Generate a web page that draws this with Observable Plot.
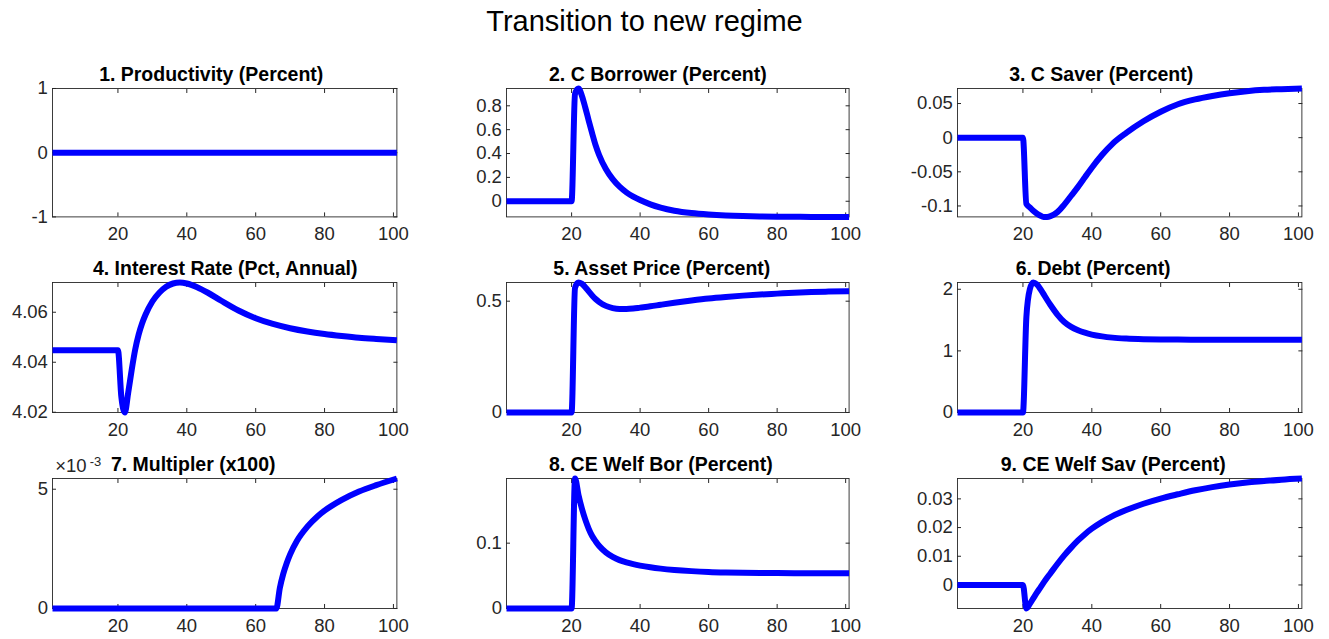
<!DOCTYPE html>
<html>
<head>
<meta charset="utf-8">
<script src="https://cdn.jsdelivr.net/npm/d3@7"></script>
<script src="https://cdn.jsdelivr.net/npm/@observablehq/plot@0.6"></script>
<style>
  body { margin: 0; background: #fff; }
  #chart { position: relative; width: 1329px; height: 639px; font-family: "Liberation Sans", Arial, Helvetica, sans-serif; overflow: hidden; }
  #maintitle { position: absolute; left: 0; width: 1289px; top: 7px; text-align: center; font-size: 29px; line-height: 29px; color: #000; }
  .panel { position: absolute; }
  .panel svg { overflow: visible; }
</style>
</head>
<body>
<div id="chart"><div id="maintitle">Transition to new regime</div></div>
<script>
// ---- data ----
const periods = [1, 20, 21, 22, 23, 24, 25, 26, 27, 28, 30, 32, 34, 36, 38, 40, 43, 46, 50, 55, 60, 65, 70, 75, 80, 85, 90, 95, 101];

const productivity = [0, 0, 0, 0, 0, 0, 0, 0, 0, 0, 0, 0, 0, 0, 0, 0, 0, 0, 0, 0, 0, 0, 0, 0, 0, 0, 0, 0, 0];
const cBorrower = [0, 0, 0.90, 0.945, 0.885, 0.785, 0.675, 0.57, 0.47, 0.39, 0.27, 0.185, 0.122, 0.075, 0.039, 0.01, -0.026, -0.053, -0.079, -0.099, -0.111, -0.119, -0.124, -0.127, -0.129, -0.130, -0.131, -0.131, -0.131];
const cSaver = [0, 0, -0.097, -0.102, -0.107, -0.111, -0.114, -0.116, -0.116, -0.115, -0.109, -0.098, -0.085, -0.072, -0.058, -0.044, -0.025, -0.009, 0.007, 0.024, 0.038, 0.049, 0.056, 0.061, 0.065, 0.068, 0.070, 0.071, 0.072];
const interestRate = [4.0448, 4.0448, 4.026, 4.0199, 4.028, 4.037, 4.045, 4.051, 4.0555, 4.059, 4.0643, 4.0678, 4.0702, 4.0715, 4.0719, 4.0715, 4.0700, 4.0679, 4.0646, 4.0607, 4.0576, 4.0553, 4.0536, 4.0523, 4.0513, 4.0505, 4.0498, 4.0493, 4.0488];
const assetPrice = [0, 0, 0.56, 0.584, 0.578, 0.563, 0.544, 0.526, 0.51, 0.497, 0.479, 0.469, 0.465, 0.465, 0.467, 0.471, 0.477, 0.484, 0.493, 0.503, 0.512, 0.519, 0.525, 0.530, 0.534, 0.538, 0.541, 0.543, 0.545];
const debt = [0, 0, 1.55, 2.0, 2.11, 2.08, 2.01, 1.92, 1.83, 1.745, 1.59, 1.47, 1.39, 1.335, 1.295, 1.265, 1.235, 1.215, 1.2, 1.19, 1.185, 1.183, 1.182, 1.181, 1.18, 1.18, 1.18, 1.18, 1.18];
const welfBor = [0, 0, 0.199, 0.174, 0.153, 0.136, 0.122, 0.111, 0.103, 0.096, 0.086, 0.079, 0.074, 0.0705, 0.0678, 0.0656, 0.063, 0.061, 0.059, 0.0572, 0.0559, 0.0551, 0.0546, 0.0543, 0.0542, 0.0541, 0.054, 0.054, 0.054];
const welfSav = [0, 0, -0.0082, -0.0066, -0.0047, -0.0028, -0.001, 0.0008, 0.0025, 0.0041, 0.0073, 0.0103, 0.013, 0.0155, 0.0177, 0.0196, 0.022, 0.024, 0.0261, 0.0283, 0.0301, 0.0316, 0.033, 0.0341, 0.035, 0.0357, 0.0362, 0.0367, 0.0371];

const multPeriods = [1, 66, 67, 68, 69, 70, 72, 75, 78, 80, 85, 90, 95, 101];
const multiplier = [0, 0, 0.00085, 0.00145, 0.0019, 0.00227, 0.00284, 0.00343, 0.00387, 0.0041, 0.00455, 0.0049, 0.00517, 0.00545];

const xTicks = [20, 40, 60, 80, 100];

const titles = ["1. Productivity (Percent)", "2. C Borrower (Percent)", "3. C Saver (Percent)",
  "4. Interest Rate (Pct, Annual)", "5. Asset Price (Percent)", "6. Debt (Percent)",
  "7. Multipler (x100)", "8. CE Welf Bor (Percent)", "9. CE Welf Sav (Percent)"];
const yTicks = [[-1, 0, 1], [0, 0.2, 0.4, 0.6, 0.8], [-0.1, -0.05, 0, 0.05],
  [4.02, 4.04, 4.06], [0, 0.5], [0, 1, 2],
  [0, 0.005], [0, 0.1], [0, 0.01, 0.02, 0.03]];
const yTickLabels = [["-1", "0", "1"], ["0", "0.2", "0.4", "0.6", "0.8"], ["-0.1", "-0.05", "0", "0.05"],
  ["4.02", "4.04", "4.06"], ["0", "0.5"], ["0", "1", "2"],
  ["0", "5"], ["0", "0.1"], ["0", "0.01", "0.02", "0.03"]];
const seriesX = [periods, periods, periods, periods, periods, periods, multPeriods, periods, periods];
const seriesY = [productivity, cBorrower, cSaver, interestRate, assetPrice, debt, multiplier, welfBor, welfSav];

// ---- layout ----
const colLeft = [52.3, 505.7, 957.3], colWidth = [344.4, 342.6, 344.4];
const rowTop = [88.3, 282.3, 478.3], rowHeight = [128.4, 130, 130];
const titleCenter = [211, 657, 1101, 225, 661, 1093, 193, 660, 1113];
const mL = 60, mR = 14, mT = 34, mB = 34;
const FONT = '"Liberation Sans", Arial, Helvetica, sans-serif';
const AX = "#262626";
const TICKFS = 18.5;

const chart = document.getElementById("chart");
for (let i = 0; i < 9; i++) {
  const r = Math.floor(i / 3), c = i % 3;
  const fw = colWidth[c], fh = rowHeight[r];
  const rows = seriesX[i].map((t, k) => ({t, v: seriesY[i][k]}));
  const ext = d3.extent(seriesY[i]);
  const domain = ext[0] === ext[1] ? [ext[0] - 1, ext[0] + 1] : ext;
  const labels = yTickLabels[i];
  const tIdx = new Map(yTicks[i].map((v, k) => [v, labels[k]]));
  const marks = [
    Plot.frame({stroke: AX, strokeWidth: 0.9}),
    Plot.axisX(xTicks, {anchor: "bottom", tickSize: -4, tickPadding: 14.4, tickFormat: d => String(d), fontSize: TICKFS, fill: AX, stroke: AX, label: null}),
    Plot.axisX(xTicks, {anchor: "top", tickSize: -4, tickFormat: () => "", stroke: AX, label: null}),
    Plot.axisY(yTicks[i], {anchor: "left", tickSize: -4, tickPadding: 8.6, tickFormat: d => tIdx.get(d), fontSize: TICKFS, fill: AX, stroke: AX, label: null}),
    Plot.axisY(yTicks[i], {anchor: "right", tickSize: -4, tickFormat: () => "", stroke: AX, label: null}),
    Plot.line(rows, {x: "t", y: "v", stroke: "#0000ff", strokeWidth: 6, curve: "monotone-x", strokeLinecap: "butt", strokeLinejoin: "round"}),
    Plot.text([titles[i]], {frameAnchor: "top", dy: -7, dx: titleCenter[i] - (colLeft[c] + fw / 2), lineAnchor: "bottom", fontWeight: "bold", fontSize: 19.5, fill: "#000"})
  ];
  if (i === 6) {
    marks.push(Plot.text(["\u00d710"], {frameAnchor: "top-left", textAnchor: "start", lineAnchor: "bottom", dx: 2.7, dy: -6, fontSize: 18.5, fill: AX}));
    marks.push(Plot.text(["-3"], {frameAnchor: "top-left", textAnchor: "start", lineAnchor: "bottom", dx: 37.2, dy: -12.6, fontSize: 13, fill: AX}));
  }
  const svg = Plot.plot({
    width: mL + fw + mR,
    height: mT + fh + mB,
    marginLeft: mL, marginRight: mR, marginTop: mT, marginBottom: mB,
    style: {fontFamily: FONT, fontSize: TICKFS + "px", color: AX, background: "transparent", overflow: "visible"},
    x: {domain: [1, 101]},
    y: {domain},
    marks
  });
  const div = document.createElement("div");
  div.className = "panel";
  div.style.left = (colLeft[c] - mL) + "px";
  div.style.top = (rowTop[r] - mT) + "px";
  div.appendChild(svg);
  chart.appendChild(div);
}
</script>
</body>
</html>
